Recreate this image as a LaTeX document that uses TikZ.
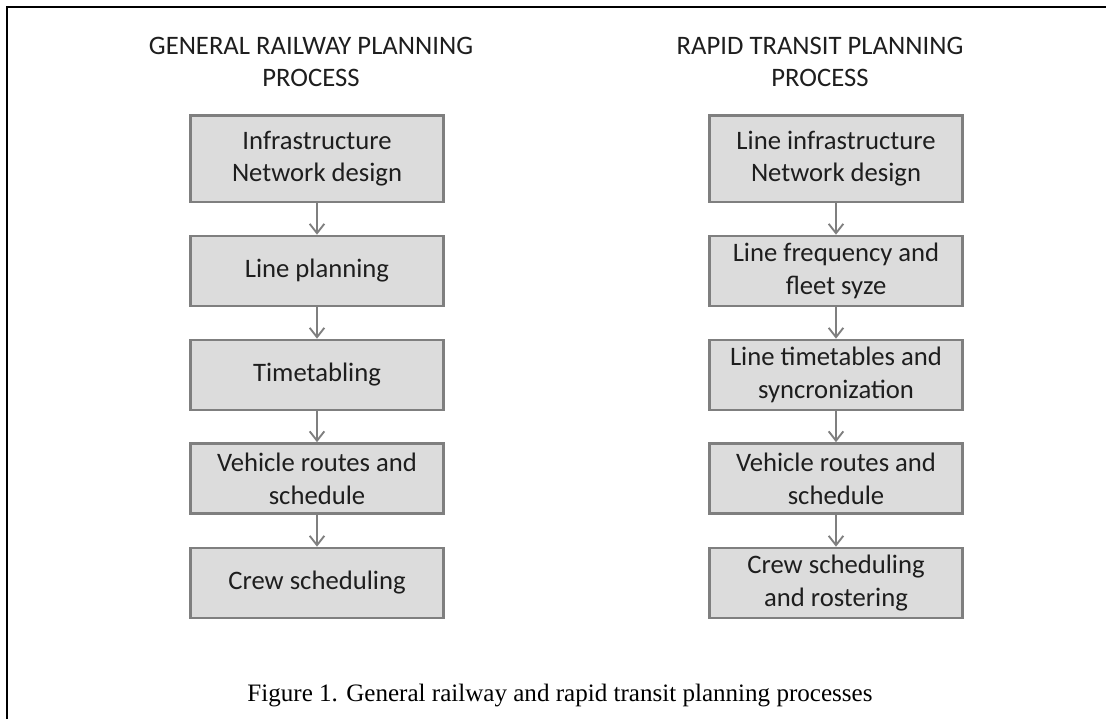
\documentclass[tikz,border=0pt]{standalone}
\usepackage{fontspec}
\setmainfont{Carlito}
\newfontfamily\capfont{Liberation Serif}
\usetikzlibrary{arrows.meta}
\definecolor{boxfill}{HTML}{DCDCDC}
\definecolor{boxline}{HTML}{7F7F7F}
\definecolor{txt}{HTML}{1E1E1E}
\begin{document}
\begin{tikzpicture}[x=0.75pt,y=-0.75pt,
  stepbox/.style={draw=boxline,line width=2pt,fill=boxfill,minimum width=190pt,
    align=center,font=\fontsize{20}{24.5}\selectfont,text=txt,inner sep=0pt},
  hbox/.style={stepbox,minimum height=65pt},
  tbox/.style={stepbox,minimum height=52.5pt},
  title/.style={align=center,font=\fontsize{20}{24}\selectfont,text=txt},
  flow/.style={draw=boxline,line width=1.8pt,-{Straight Barb[length=7pt,width=11pt,line width=1.4pt]}}]
\useasboundingbox (0,0) rectangle (1106,719);
\draw[line width=2pt] (7,719) -- (7,7) -- (1106,7);
% left column
\node[title] (tl) at (311,62) {GENERAL RAILWAY PLANNING\\PROCESS};
\node[hbox] (l1) at (317,158.5) {Infrastructure\\Network design};
\node[tbox] (l2) at (317,271) {Line planning};
\node[tbox] (l3) at (317,375) {Timetabling};
\node[tbox] (l4) at (317,478.5) {Vehicle routes and\\schedule};
\node[tbox] (l5) at (317,583) {Crew scheduling};
% right column
\node[title] (tr) at (820,62) {RAPID TRANSIT PLANNING\\PROCESS};
\node[hbox] (r1) at (836,158.5) {Line infrastructure\\Network design};
\node[tbox] (r2) at (836,271) {Line frequency and\\fleet syze};
\node[tbox] (r3) at (836,375) {Line timetables and\\syncronization};
\node[tbox] (r4) at (836,478.5) {Vehicle routes and\\schedule};
\node[tbox] (r5) at (836,583) {Crew scheduling\\and rostering};
\foreach \a/\b in {l1/l2,l2/l3,l3/l4,l4/l5,r1/r2,r2/r3,r3/r4,r4/r5}
  \draw[flow] (\a.south) -- (\b.north);
\node[font=\capfont\fontsize{18.8}{22}\selectfont] (cap) at (560,695) {Figure 1. General railway and rapid transit planning processes};
\end{tikzpicture}
\end{document}
